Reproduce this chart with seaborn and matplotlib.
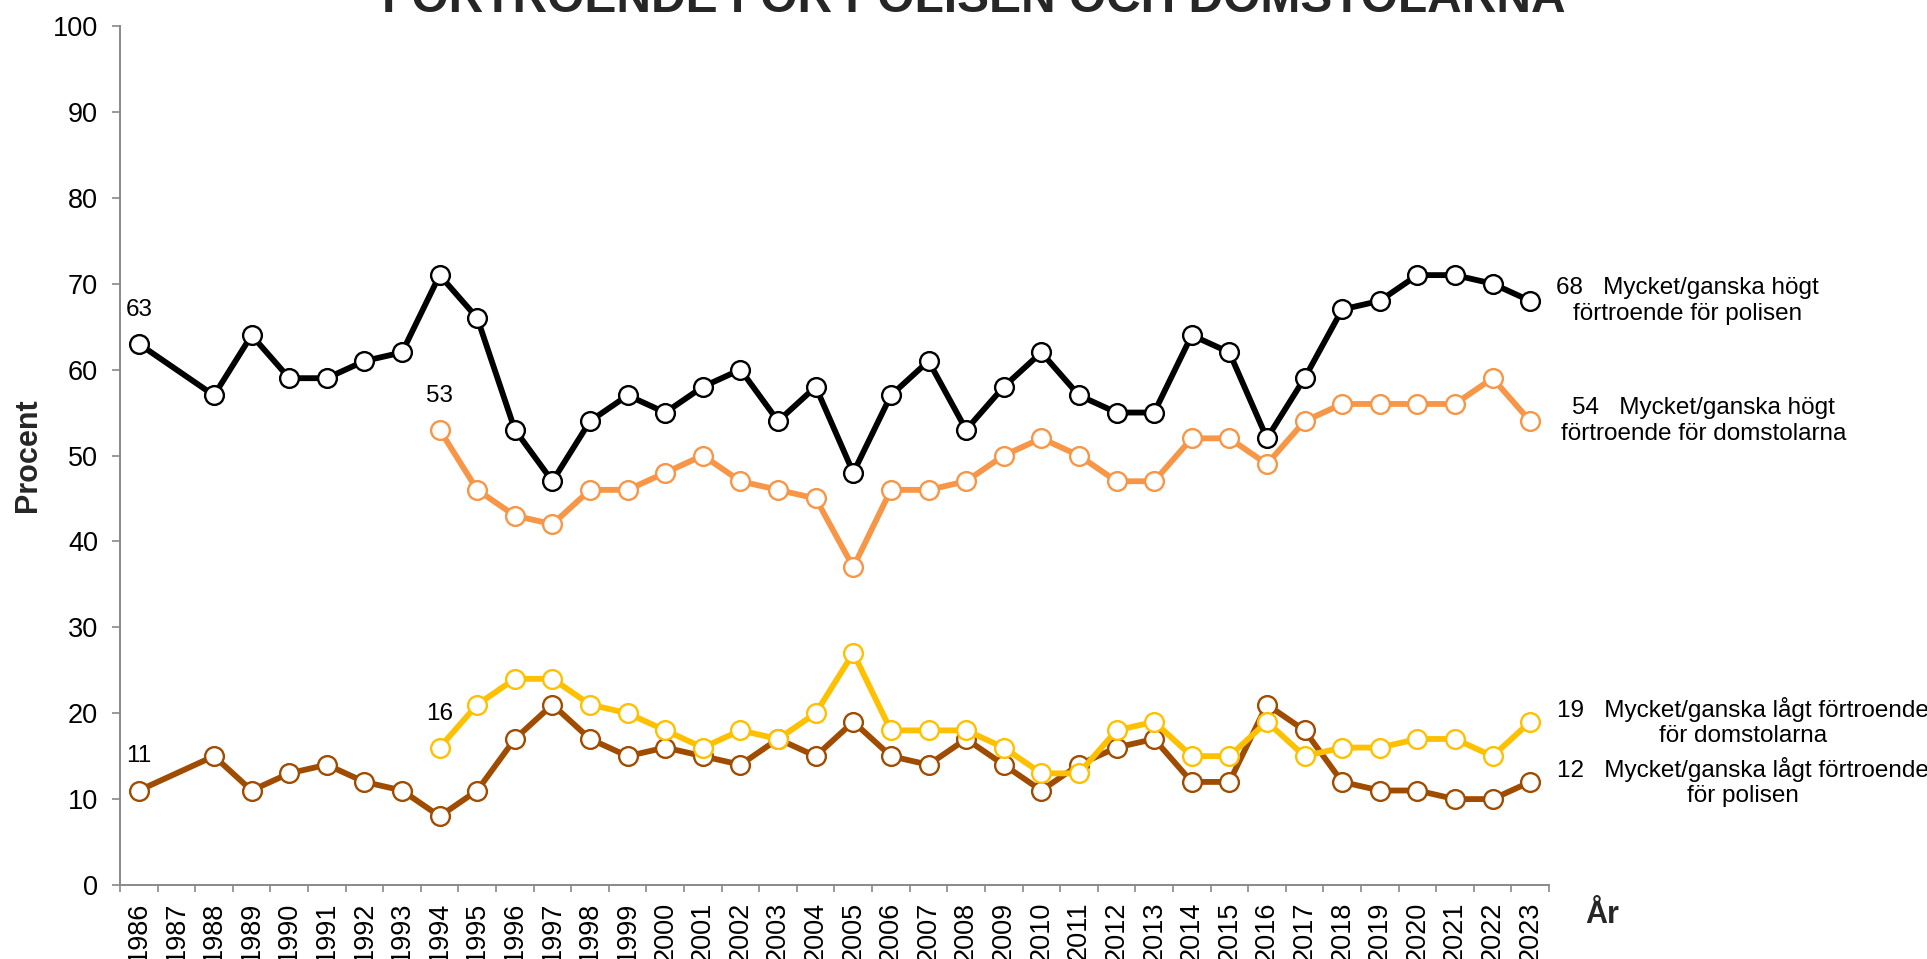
import numpy as np
import pandas as pd
import matplotlib
matplotlib.use("Agg")
import matplotlib.pyplot as plt
import seaborn as sns

# --- data ------------------------------------------------------------------
years = list(range(1986, 2024))

# Mycket/ganska högt förtroende för polisen (no survey 1987)
police_high = [63, None, 57, 64, 59, 59, 61, 62, 71, 66,
               53, 47, 54, 57, 55, 58, 60, 54, 58, 48,
               57, 61, 53, 58, 62, 57, 55, 55, 64, 62,
               52, 59, 67, 68, 71, 71, 70, 68]

# Mycket/ganska högt förtroende för domstolarna (from 1994)
courts_high = [None] * 8 + [53, 46,
               43, 42, 46, 46, 48, 50, 47, 46, 45, 37,
               46, 46, 47, 50, 52, 50, 47, 47, 52, 52,
               49, 54, 56, 56, 56, 56, 59, 54]

# Mycket/ganska lågt förtroende för domstolarna (from 1994)
courts_low = [None] * 8 + [16, 21,
              24, 24, 21, 20, 18, 16, 18, 17, 20, 27,
              18, 18, 18, 16, 13, 13, 18, 19, 15, 15,
              19, 15, 16, 16, 17, 17, 15, 19]

# Mycket/ganska lågt förtroende för polisen
police_low = [11, None, 15, 11, 13, 14, 12, 11, 8, 11,
              17, 21, 17, 15, 16, 15, 14, 17, 15, 19,
              15, 14, 17, 14, 11, 14, 16, 17, 12, 12,
              21, 18, 12, 11, 11, 10, 10, 12]

series_names = [
    "Mycket/ganska högt\nförtroende för polisen",
    "Mycket/ganska högt\nförtroende för domstolarna",
    "Mycket/ganska lågt förtroende\nför polisen",
    "Mycket/ganska lågt förtroende\nför domstolarna",
]
series_values = [police_high, courts_high, police_low, courts_low]
series_colors = ["#000000", "#F79646", "#A04C00", "#FFC000"]
# horizontal offset (points) of the end label centre from the last point
end_label_dx = [113, 125, 153, 153]


def main():
    sns.set_theme(style="white")
    plt.rcParams["font.family"] = ["Liberation Sans", "DejaVu Sans"]

    fig = plt.figure(figsize=(19.27, 9.59), dpi=100)
    ax = fig.add_axes([120 / 1927, 74 / 959, 1429 / 1927, 859 / 959])

    gray = "#898989"

    for name, vals, color, dx in zip(series_names, series_values,
                                     series_colors, end_label_dx):
        df = pd.DataFrame({"År": years, "Procent": vals}).dropna()
        sns.lineplot(data=df, x="År", y="Procent", ax=ax, color=color,
                     linewidth=4.2, marker="o", markersize=13.5,
                     markerfacecolor="white", markeredgecolor=color,
                     markeredgewidth=1.7)

        first = df.iloc[0]
        ax.annotate(f"{int(first['Procent'])}",
                    (first["År"], first["Procent"]),
                    xytext=(0, 24.5), textcoords="offset points",
                    ha="center", va="center", fontsize=17.5,
                    color="black", annotation_clip=False)

        last = df.iloc[-1]
        first_line, second_line = name.split("\n")
        ax.annotate(f"{int(last['Procent'])}   {first_line}\n{second_line}",
                    (last["År"], last["Procent"]),
                    xytext=(dx, 0), textcoords="offset points",
                    ha="center", va="center", multialignment="center",
                    fontsize=17.5, color="black", annotation_clip=False)

    ax.set_xlim(years[0] - 0.5, years[-1] + 0.5)
    ax.set_ylim(0, 100)
    ax.set_yticks(np.arange(0, 101, 10))
    ax.set_xticks(years)
    ax.set_xticklabels([str(y) for y in years], rotation=90)
    ax.set_xticks(np.arange(years[0] - 0.5, years[-1] + 1, 1.0), minor=True)

    ax.tick_params(axis="y", which="major", left=True, length=5.8,
                   width=1.2, color=gray, pad=10, labelsize=19.5,
                   labelcolor="black")
    ax.tick_params(axis="x", which="major", bottom=True, length=0,
                   pad=12, labelsize=19.5, labelcolor="black")
    ax.tick_params(axis="x", which="minor", bottom=True, length=5,
                   width=1.2, color=gray)

    sns.despine(ax=ax)
    for side in ("left", "bottom"):
        ax.spines[side].set_color(gray)
        ax.spines[side].set_linewidth(1.4)

    ax.set_xlabel("")
    ax.set_ylabel("")
    ax.grid(False)

    fig.text(28 / 1927, 1 - 455 / 959, "Procent", rotation=90,
             ha="center", va="center", fontsize=22, weight="bold")
    fig.text(1602 / 1927, 1 - 915 / 959, "År",
             ha="center", va="center", fontsize=22, weight="bold")
    fig.text(974 / 1927, 1 - 12 / 959,
             "FÖRTROENDE FÖR POLISEN OCH DOMSTOLARNA",
             ha="center", va="baseline", fontsize=34.5, weight="bold")

    fig.savefig("out.png", dpi=100)
    plt.close(fig)


if __name__ == "__main__":
    main()
